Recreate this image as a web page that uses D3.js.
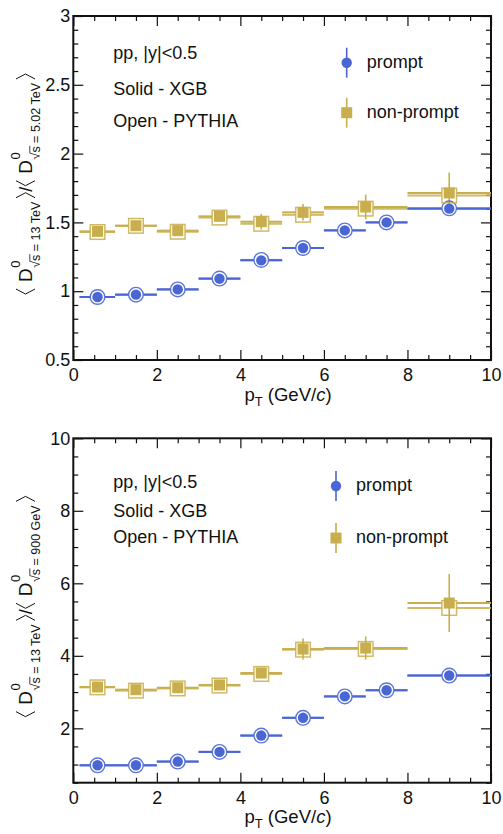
<!DOCTYPE html>
<html>
<head>
<meta charset="utf-8">
<script src="https://cdn.jsdelivr.net/npm/d3@7"></script>
<style>
  body { margin: 0; background: #fff; }
  svg { display: block; }
  text { font-family: "Liberation Sans", Arial, Helvetica, sans-serif; fill: #111; white-space: pre; }
</style>
</head>
<body>
<div id="chart"></div>
<script>
// pT bins (GeV/c) and marker positions
const promptLo = [0.15, 1, 2, 3, 4, 5, 6, 7, 8];
const promptHi = [1, 2, 3, 4, 5, 6, 7, 8, 10];
const promptPt = [0.58, 1.5, 2.5, 3.5, 4.5, 5.5, 6.5, 7.5, 9.0];
const npLo = [0.15, 1, 2, 3, 4, 5, 6, 8];
const npHi = [1, 2, 3, 4, 5, 6, 8, 10];
const npPt = [0.58, 1.5, 2.5, 3.5, 4.5, 5.5, 7.0, 9.0];

// 13 TeV / 5.02 TeV
const promptXgb502 = [0.958, 0.975, 1.013, 1.091, 1.224, 1.314, 1.442, 1.500, 1.600];
const promptXgb502Err = [0.012, 0.012, 0.012, 0.014, 0.016, 0.018, 0.02, 0.022, 0.03];
const promptPyt502 = [0.958, 0.975, 1.013, 1.092, 1.227, 1.314, 1.442, 1.500, 1.602];
const npXgb502 = [1.435, 1.476, 1.440, 1.544, 1.505, 1.573, 1.612, 1.714];
const npXgb502Err = [0.02, 0.02, 0.02, 0.025, 0.057, 0.06, 0.09, 0.148];
const npPyt502 = [1.430, 1.475, 1.432, 1.535, 1.490, 1.555, 1.600, 1.695];

// 13 TeV / 900 GeV
const promptXgb900 = [0.98, 0.98, 1.083, 1.35, 1.80, 2.29, 2.88, 3.05, 3.456];
const promptXgb900Err = [0.03, 0.03, 0.03, 0.04, 0.05, 0.06, 0.07, 0.07, 0.09];
const promptPyt900 = [0.98, 0.98, 1.083, 1.35, 1.80, 2.29, 2.88, 3.05, 3.456];
const npXgb900 = [3.14, 3.066, 3.12, 3.196, 3.526, 4.187, 4.215, 5.455];
const npXgb900Err = [0.05, 0.05, 0.05, 0.06, 0.1, 0.29, 0.32, 0.8];
const npPyt900 = [3.13, 3.04, 3.10, 3.18, 3.50, 4.17, 4.19, 5.32];

const xTicks = [0, 2, 4, 6, 8, 10];
const annotations = ["pp, |y|<0.5", "Solid - XGB", "Open - PYTHIA"];
const legendLabels = ["prompt", "non-prompt"];

const blue = "#4a66d4";
const gold = "#c8ae4c";

const width = 503, height = 834;
const left = 73.3, right = 491;

const svg = d3.select("#chart").append("svg")
  .attr("width", width)
  .attr("height", height)
  .attr("viewBox", [0, 0, width, height]);

const x = d3.scaleLinear().domain([0, 10]).range([left, right]);

const panels = [
  {
    top: 16, bottom: 360, yDomain: [0.5, 3],
    yMajor: [0.5, 1, 1.5, 2, 2.5, 3], yMinorStep: 0.1,
    denom: "5.02 TeV",
    prompt: promptXgb502, promptErr: promptXgb502Err, promptOpen: promptPyt502,
    np: npXgb502, npErr: npXgb502Err, npOpen: npPyt502,
    textY: [59.3, 95, 127.3],
    legX: 346.7, legY: [62.7, 112.7]
  },
  {
    top: 438.3, bottom: 782.7, yDomain: [0.5, 10],
    yMajor: [2, 4, 6, 8, 10], yMinorStep: 0.5,
    denom: "900 GeV",
    prompt: promptXgb900, promptErr: promptXgb900Err, promptOpen: promptPyt900,
    np: npXgb900, npErr: npXgb900Err, npOpen: npPyt900,
    textY: [488.3, 516.7, 543.3],
    legX: 336, legY: [486, 538]
  }
];

function minorValues(lo, hi, step, majors) {
  const out = [];
  for (let v = lo; v <= hi + 1e-9; v += step) {
    const r = Math.round(v * 1000) / 1000;
    if (!majors.some(m => Math.abs(m - r) < 1e-6)) out.push(r);
  }
  return out;
}

function styleAxis(g) {
  g.select(".domain").remove();
  g.selectAll("line").attr("stroke", "#111").attr("stroke-width", 1.2);
  g.selectAll("text").attr("font-size", 18).attr("fill", "#111")
    .attr("font-family", '"Liberation Sans", Arial, sans-serif');
}

// horizontal error bar split around a marker of half-size r
function hBar(g, lo, hi, xc, yv, r, color, sw, op) {
  const px0 = x(lo), px1 = x(hi), pc = x(xc);
  if (pc - r > px0) g.append("line").attr("x1", px0).attr("x2", pc - r).attr("y1", yv).attr("y2", yv)
    .attr("stroke", color).attr("stroke-width", sw).attr("opacity", op);
  if (px1 > pc + r) g.append("line").attr("x1", pc + r).attr("x2", px1).attr("y1", yv).attr("y2", yv)
    .attr("stroke", color).attr("stroke-width", sw).attr("opacity", op);
}

function yLabel(cx, cy, denom) {
  const lab = svg.append("g");
  const inner = lab.append("g");
  let s = 0;
  const bracket = (open) => {
    const w = 5, t = -16, b = 3, m = (t + b) / 2;
    const d = open ? `M${s + w},${t}L${s},${m}L${s + w},${b}` : `M${s},${t}L${s + w},${m}L${s},${b}`;
    inner.append("path").attr("d", d).attr("fill", "none").attr("stroke", "#111").attr("stroke-width", 1);
    s += w;
  };
  const txt = (str, size, yy, advance) => {
    const t = inner.append("text").attr("x", s).attr("y", yy).attr("font-size", size).text(str);
    const w = t.node().getComputedTextLength();
    if (advance) s += w;
    return w;
  };
  const dWithScripts = (sub) => {
    txt("D", 19, 0, true);
    s += 0.5;
    const s0 = s;
    const wSup = txt("0", 13, -12, false);
    txt("\u221A", 12.5, 7.5, true);
    const sx = s;
    const wS = txt("s", 12.5, 7.5, true);
    inner.append("line").attr("x1", sx - 0.5).attr("x2", sx + wS + 0.5).attr("y1", -2.2).attr("y2", -2.2)
      .attr("stroke", "#111").attr("stroke-width", 0.8);
    txt("\u00A0=\u00A0" + sub, 12.5, 7.5, true);
    s = Math.max(s, s0 + wSup);
  };
  bracket(true);
  s += 7;
  dWithScripts("13 TeV");
  s += 4;
  bracket(false);
  s += 1;
  txt("/", 18, 0, true);
  s += 1;
  bracket(true);
  s += 7;
  dWithScripts(denom);
  s += 4;
  bracket(false);
  lab.attr("transform", `translate(${cx},${cy + s / 2}) rotate(-90)`);
}

panels.forEach(p => {
  const y = d3.scaleLinear().domain(p.yDomain).range([p.bottom, p.top]);
  const g = svg.append("g");

  const yMinor = minorValues(p.yDomain[0], p.yDomain[1], p.yMinorStep, p.yMajor);
  const xMinor = minorValues(0, 10, 0.5, xTicks);

  // axes (ticks pointing into the frame)
  g.append("g").attr("transform", `translate(${left},0)`)
    .call(d3.axisLeft(y).tickValues(p.yMajor).tickSize(-10).tickPadding(3).tickFormat(d => d)).call(styleAxis);
  g.append("g").attr("transform", `translate(${left},0)`)
    .call(d3.axisLeft(y).tickValues(yMinor).tickSize(-5).tickFormat("")).call(styleAxis);
  g.append("g").attr("transform", `translate(${right},0)`)
    .call(d3.axisRight(y).tickValues(p.yMajor).tickSize(-10).tickFormat("")).call(styleAxis);
  g.append("g").attr("transform", `translate(${right},0)`)
    .call(d3.axisRight(y).tickValues(yMinor).tickSize(-5).tickFormat("")).call(styleAxis);
  g.append("g").attr("transform", `translate(0,${p.bottom})`)
    .call(d3.axisBottom(x).tickValues(xTicks).tickSize(-10).tickPadding(8.5).tickFormat(d => d)).call(styleAxis);
  g.append("g").attr("transform", `translate(0,${p.bottom})`)
    .call(d3.axisBottom(x).tickValues(xMinor).tickSize(-5).tickFormat("")).call(styleAxis);
  g.append("g").attr("transform", `translate(0,${p.top})`)
    .call(d3.axisTop(x).tickValues(xTicks).tickSize(-10).tickFormat("")).call(styleAxis);
  g.append("g").attr("transform", `translate(0,${p.top})`)
    .call(d3.axisTop(x).tickValues(xMinor).tickSize(-5).tickFormat("")).call(styleAxis);

  // frame
  g.append("rect").attr("x", left).attr("y", p.top)
    .attr("width", right - left).attr("height", p.bottom - p.top)
    .attr("fill", "none").attr("stroke", "#111").attr("stroke-width", 2);

  // x title
  const xt = g.append("text").attr("x", 288).attr("y", p.bottom + 40.5)
    .attr("text-anchor", "middle").attr("font-size", 18.5);
  xt.append("tspan").text("p");
  xt.append("tspan").attr("font-size", 13).attr("dy", 5).text("T");
  xt.append("tspan").attr("dy", -5).text("\u00A0(GeV/");
  xt.append("tspan").attr("font-style", "italic").text("c");
  xt.append("tspan").text(")");

  // y title
  yLabel(32, (p.top + p.bottom) / 2 - 4, p.denom);

  const data = g.append("g");

  // open (PYTHIA) series: error lines
  p.promptOpen.forEach((v, i) => hBar(data, promptLo[i], promptHi[i], promptPt[i], y(v), 7.5, blue, 2, 0.85));
  p.npOpen.forEach((v, i) => hBar(data, npLo[i], npHi[i], npPt[i], y(v), 7.5, gold, 2, 0.85));

  // solid (XGB) series: error lines
  p.prompt.forEach((v, i) => {
    hBar(data, promptLo[i], promptHi[i], promptPt[i], y(v), 7.5, blue, 2, 1);
    data.append("line").attr("x1", x(promptPt[i])).attr("x2", x(promptPt[i]))
      .attr("y1", y(v - p.promptErr[i])).attr("y2", y(v + p.promptErr[i]))
      .attr("stroke", blue).attr("stroke-width", 1.6);
  });
  p.np.forEach((v, i) => {
    hBar(data, npLo[i], npHi[i], npPt[i], y(v), 7.5, gold, 2, 1);
    data.append("line").attr("x1", x(npPt[i])).attr("x2", x(npPt[i]))
      .attr("y1", y(v - p.npErr[i])).attr("y2", y(v + p.npErr[i]))
      .attr("stroke", gold).attr("stroke-width", 1.6);
  });

  // open markers
  data.selectAll(".openC").data(p.promptOpen).join("circle")
    .attr("cx", (d, i) => x(promptPt[i])).attr("cy", d => y(d)).attr("r", 7.3)
    .attr("fill", "none").attr("stroke", blue).attr("stroke-width", 1.4).attr("opacity", 0.9);
  data.selectAll(".openS").data(p.npOpen).join("rect")
    .attr("x", (d, i) => x(npPt[i]) - 7.3).attr("y", d => y(d) - 7.3)
    .attr("width", 14.6).attr("height", 14.6)
    .attr("fill", "none").attr("stroke", gold).attr("stroke-width", 1.5).attr("opacity", 0.85);

  // solid markers
  data.selectAll(".solidC").data(p.prompt).join("circle")
    .attr("cx", (d, i) => x(promptPt[i])).attr("cy", d => y(d)).attr("r", 5.2)
    .attr("fill", blue);
  data.selectAll(".solidS").data(p.np).join("rect")
    .attr("x", (d, i) => x(npPt[i]) - 5.5).attr("y", d => y(d) - 5.5)
    .attr("width", 11).attr("height", 11)
    .attr("fill", gold);

  // annotations
  annotations.forEach((t, i) => {
    g.append("text").attr("x", 113.3).attr("y", p.textY[i]).attr("font-size", 18).text(t);
  });

  // legend
  const leg = g.append("g");
  leg.append("line").attr("x1", p.legX).attr("x2", p.legX)
    .attr("y1", p.legY[0] - 15).attr("y2", p.legY[0] + 15).attr("stroke", blue).attr("stroke-width", 1.6);
  leg.append("circle").attr("cx", p.legX).attr("cy", p.legY[0]).attr("r", 5.2).attr("fill", blue);
  leg.append("line").attr("x1", p.legX).attr("x2", p.legX)
    .attr("y1", p.legY[1] - 15).attr("y2", p.legY[1] + 15).attr("stroke", gold).attr("stroke-width", 1.6);
  leg.append("rect").attr("x", p.legX - 5.5).attr("y", p.legY[1] - 5.5)
    .attr("width", 11).attr("height", 11).attr("fill", gold);
  legendLabels.forEach((t, i) => {
    leg.append("text").attr("x", p.legX + 20).attr("y", p.legY[i] + 5).attr("font-size", 18).text(t);
  });
});
</script>
</body>
</html>
